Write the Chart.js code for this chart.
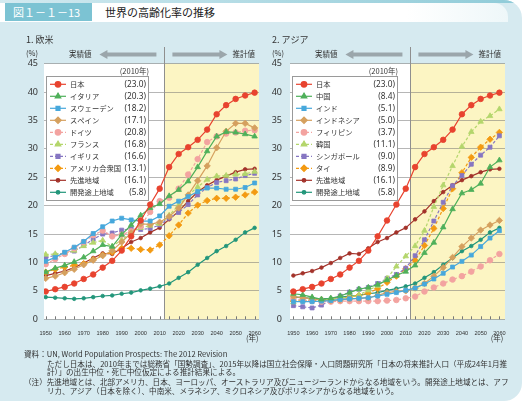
<!DOCTYPE html>
<html>
<head>
<meta charset="utf-8">
<script src="https://cdn.jsdelivr.net/npm/chart.js@4.4.1/dist/chart.umd.min.js"></script>
<style>
body{margin:0;width:527px;height:403px;overflow:hidden;background:#fff;font-family:"Noto Sans CJK JP",sans-serif;}
#frame{position:absolute;left:0;top:0;width:522px;height:401px;background:#d6eaf0;border-radius:0 18px 18px 0;overflow:hidden;}
#topline{position:absolute;left:0;top:0;width:522px;height:3px;background:linear-gradient(90deg,#d3eaf0,#8fcbd8);}
#strip{position:absolute;left:0;top:3px;width:508px;height:19px;background:linear-gradient(90deg,#fff 80%,#eef7f9);border-top-right-radius:14px;}
#figno{position:absolute;left:5px;top:3px;width:87px;height:18px;background:#7cc3d3;color:#fff;font-size:11px;line-height:18px;padding-left:8px;box-sizing:border-box;}
#title{position:absolute;left:105px;top:3px;font-size:11px;line-height:18px;color:#222;}
canvas{position:absolute;top:30px;}
.note{position:absolute;font-size:7.6px;line-height:9px;color:#333;white-space:nowrap;}
</style>
</head>
<body>
<div id="frame"><div id="topline"></div><div id="strip"></div></div>
<div id="figno">図１－１－13</div>
<div id="title">世界の高齢化率の推移</div>
<canvas id="west" width="264" height="320" style="left:0px"></canvas>
<canvas id="asia" width="263" height="320" style="left:264px"></canvas>
<div class="note" style="left:24px;top:349px">資料：UN, World Population Prospects: The 2012 Revision</div>
<div class="note" style="left:47px;top:359px">ただし日本は、2010年までは総務省「国勢調査」、2015年以降は国立社会保障・人口問題研究所「日本の将来推計人口（平成24年1月推</div>
<div class="note" style="left:47px;top:367px">計）」の出生中位・死亡中位仮定による推計結果による。</div>
<div class="note" style="left:24px;top:377px">（注）先進地域とは、北部アメリカ、日本、ヨーロッパ、オーストラリア及びニュージーランドからなる地域をいう。開発途上地域とは、アフ</div>
<div class="note" style="left:47px;top:386px">リカ、アジア（日本を除く）、中南米、メラネシア、ミクロネシア及びポリネシアからなる地域をいう。</div>
<script>
// 5-year points, 1950 - 2060 (2015 onward are projections)
var years = [1950,1955,1960,1965,1970,1975,1980,1985,1990,1995,2000,2005,2010,2015,2020,2025,2030,2035,2040,2045,2050,2055,2060];
var tickYears = [1950,1960,1970,1980,1990,2000,2010,2020,2030,2040,2050,2060];
var yTicks = [0,5,10,15,20,25,30,35,40,45];

var japan      = [4.9,5.3,5.7,6.3,7.1,7.9,9.1,10.3,12.1,14.6,17.4,20.2,23.0,26.8,29.1,30.3,31.6,33.4,36.1,37.7,38.8,39.4,39.9];
var developed  = [7.7,8.1,8.5,9.1,9.9,10.8,11.6,11.5,12.5,13.6,14.3,15.3,16.1,17.6,19.0,20.8,22.4,23.6,24.5,25.2,25.9,26.4,26.5];
var developing = [3.9,3.8,3.7,3.6,3.7,3.9,4.1,4.2,4.5,4.7,5.1,5.4,5.8,6.3,7.3,8.3,9.6,10.8,12.0,12.9,14.0,15.3,16.1];

// 1. western countries
var italy   = [8.3,9.0,9.5,10.1,10.9,12.0,13.1,12.8,14.9,16.6,18.3,19.6,20.3,21.7,22.8,24.3,26.8,29.6,32.2,33.0,32.9,32.6,32.2];
var sweden  = [10.2,10.9,11.8,12.7,13.7,15.1,16.3,17.3,17.8,17.5,17.3,17.3,18.2,19.9,20.8,21.6,22.5,23.1,23.1,22.9,22.9,23.2,24.0];
var spain   = [7.2,7.6,8.2,8.8,9.6,10.4,11.2,12.1,13.6,15.2,16.8,16.7,17.1,18.1,19.6,21.9,24.4,27.0,30.2,33.1,34.5,34.5,33.7];
var germany = [9.7,10.6,11.5,12.5,13.6,14.8,15.6,14.6,14.9,15.5,16.4,18.9,20.8,21.4,23.0,25.5,28.2,31.2,32.2,32.7,32.9,33.2,33.3];
var france  = [11.4,11.5,11.6,12.1,12.9,13.5,13.9,12.8,14.0,15.2,16.1,16.5,16.8,18.3,20.1,21.8,23.3,24.6,25.2,25.3,25.5,25.6,26.0];
var uk      = [10.8,11.3,11.7,12.0,13.0,14.1,15.0,15.2,15.7,15.9,15.8,16.0,16.6,17.8,18.8,20.2,21.9,23.2,24.1,24.4,24.7,25.3,25.7];
var usa     = [8.3,8.8,9.2,9.5,9.8,10.5,11.3,11.8,12.5,12.5,12.3,12.2,13.1,14.7,16.6,18.7,20.1,20.9,21.3,21.3,21.5,21.9,22.4];

// 2. asia
var china       = [4.5,4.3,3.9,3.5,3.7,4.1,4.7,5.3,5.6,6.1,6.9,7.7,8.4,9.5,11.7,13.5,16.2,19.4,22.2,22.8,23.9,26.8,28.0];
var india       = [3.1,3.1,3.1,3.2,3.3,3.5,3.6,3.7,3.8,4.1,4.4,4.7,5.1,5.5,6.2,7.1,8.1,9.2,10.2,11.3,12.8,14.3,15.6];
var indonesia   = [4.0,3.8,3.6,3.4,3.3,3.4,3.6,3.7,3.8,4.2,4.7,4.9,5.0,5.5,6.3,7.6,9.1,10.9,12.8,14.3,15.7,16.6,17.4];
var philippines = [3.6,3.4,3.2,3.1,3.1,3.2,3.2,3.2,3.2,3.2,3.3,3.4,3.7,4.0,4.9,5.6,6.3,7.0,7.6,8.4,9.3,10.4,11.5];
var korea       = [3.0,3.3,3.7,3.4,3.5,3.8,3.9,4.3,5.1,5.9,7.2,9.3,11.1,12.9,15.6,19.8,23.6,27.0,30.4,33.0,34.8,35.8,37.0];
var singapore   = [2.4,2.2,2.0,2.5,3.3,4.1,4.8,5.3,5.6,6.3,7.2,7.9,9.0,11.2,14.0,17.3,20.6,23.5,25.3,27.3,28.9,30.3,32.3];
var thailand    = [3.2,3.3,3.3,3.4,3.5,3.7,3.9,4.2,4.6,5.4,6.5,7.6,8.9,10.4,13.0,16.0,19.5,23.0,25.8,28.5,30.3,31.7,32.9];

var westNames  = ['日本','イタリア','スウェーデン','スペイン','ドイツ','フランス','イギリス','アメリカ合衆国','先進地域','開発途上地域'];
var westSeries = [japan, italy, sweden, spain, germany, france, uk, usa, developed, developing];
var west2010   = [23.0,20.3,18.2,17.1,20.8,16.8,16.6,13.1,16.1,5.8];

var asiaNames  = ['日本','中国','インド','インドネシア','フィリピン','韓国','シンガポール','タイ','先進地域','開発途上地域'];
var asiaSeries = [japan, china, india, indonesia, philippines, korea, singapore, thailand, developed, developing];
var asia2010   = [23.0,8.4,5.1,5.0,3.7,11.1,9.0,8.9,16.1,5.8];

// line styles, same slot order in both panels
var styles = [
  {c:'#e8432f', p:'circle', r:2.8},
  {c:'#4fb05a', p:'triangle', r:3.2},
  {c:'#47a8dc', p:'rect', r:2.8},
  {c:'#d5a05e', p:'rectRot', r:3.2},
  {c:'#f3a3a0', p:'circle', r:2.8, d:[3,2]},
  {c:'#b4d66c', p:'triangle', r:3.2, d:[3,2]},
  {c:'#8676c2', p:'rect', r:2.8, d:[3,2]},
  {c:'#f39a12', p:'rectRot', r:3.2, d:[3,2]},
  {c:'#a3322a', p:'circle', r:1.8},
  {c:'#22967a', p:'circle', r:1.8}
];

var canvasTop = 30;
var boundary = 2012.5;

function makeDatasets(names, series) {
  return names.map(function (n, i) {
    var s = styles[i];
    return {
      label: n,
      data: years.map(function (yr, j) { return {x: yr, y: series[i][j]}; }),
      borderColor: s.c,
      backgroundColor: s.c,
      borderWidth: 1.2,
      borderDash: s.d || [],
      pointStyle: s.p,
      pointRadius: s.r,
      pointBorderWidth: 0.8,
      tension: 0
    };
  });
}

function arrow(ctx, tail, head, y) {
  var dir = head > tail ? 1 : -1;
  ctx.beginPath();
  ctx.moveTo(tail, y - 2);
  ctx.lineTo(head - dir * 8, y - 2);
  ctx.lineTo(head - dir * 8, y - 4.5);
  ctx.lineTo(head, y);
  ctx.lineTo(head - dir * 8, y + 4.5);
  ctx.lineTo(head - dir * 8, y + 2);
  ctx.lineTo(tail, y + 2);
  ctx.closePath();
  ctx.fill();
}

// white / yellow backgrounds, header arrows, box legend
var panelDecor = {
  id: 'panelDecor',
  beforeDraw: function (chart) {
    var ctx = chart.ctx, a = chart.chartArea;
    var sx = chart.scales.x.getPixelForValue(boundary);
    ctx.save();
    ctx.fillStyle = '#ffffff';
    ctx.fillRect(a.left, a.top, sx - a.left, a.bottom - a.top);
    ctx.fillStyle = '#fcf5c3';
    ctx.fillRect(sx, a.top, a.right - sx, a.bottom - a.top);
    ctx.restore();
  },
  beforeDatasetsDraw: function (chart) {
    var ctx = chart.ctx, a = chart.chartArea, x = chart.scales.x;
    var sx = x.getPixelForValue(boundary);
    ctx.save();
    ctx.strokeStyle = '#8f8f8f';
    ctx.lineWidth = 1;
    ctx.beginPath();
    ctx.moveTo(Math.round(sx) + 0.5, 17);
    ctx.lineTo(Math.round(sx) + 0.5, a.bottom);
    ctx.stroke();
    ctx.strokeStyle = '#777';
    for (var yr = 1950; yr <= 2060; yr += 5) {
      var px = Math.round(x.getPixelForValue(yr)) + 0.5;
      ctx.beginPath();
      ctx.moveTo(px, a.bottom);
      ctx.lineTo(px, a.bottom - 3);
      ctx.stroke();
    }
    ctx.restore();
  },
  afterDraw: function (chart, args, o) {
    var ctx = chart.ctx, a = chart.chartArea, x = chart.scales.x;
    var sx = x.getPixelForValue(boundary);
    ctx.save();
    ctx.fillStyle = '#333';
    ctx.textBaseline = 'middle';
    ctx.font = '9px "Noto Sans CJK JP"';
    ctx.fillText(o.title, a.left - 18, 10);
    ctx.font = '7.5px "Noto Sans CJK JP"';
    ctx.fillText('(%)', a.left - 18, 23);
    ctx.textAlign = 'right';
    ctx.fillText('実績値', sx - 73, 24);
    ctx.textAlign = 'left';
    ctx.fillText('推計値', sx + 68, 24);
    ctx.textAlign = 'right';
    ctx.fillText('(年)', x.getPixelForValue(2060) + 4, 308.5);
    ctx.fillStyle = '#9ba6ab';
    arrow(ctx, sx - 8, sx - 65, 24.5);
    arrow(ctx, sx + 8, sx + 63, 24.5);

    // legend box
    var L = o.box;
    ctx.fillStyle = '#fff';
    ctx.fillRect(L.left, L.top, L.right - L.left, L.bottom - L.top);
    ctx.strokeStyle = '#9a9a9a';
    ctx.lineWidth = 1;
    ctx.strokeRect(L.left + 0.5, L.top + 0.5, L.right - L.left - 1, L.bottom - L.top - 1);
    ctx.fillStyle = '#333';
    ctx.font = '7.5px "Noto Sans CJK JP"';
    ctx.textAlign = 'right';
    ctx.fillText('(2010年)', L.right, L.top - 5);
    chart.data.datasets.forEach(function (ds, i) {
      var cy = L.first + i * L.step;
      ctx.strokeStyle = ds.borderColor;
      ctx.fillStyle = ds.backgroundColor;
      ctx.lineWidth = 1.2;
      ctx.setLineDash(ds.borderDash);
      ctx.beginPath();
      ctx.moveTo(L.left + 4, cy);
      ctx.lineTo(L.left + 20, cy);
      ctx.stroke();
      ctx.setLineDash([]);
      Chart.helpers.drawPoint(ctx, {pointStyle: ds.pointStyle, radius: ds.pointRadius, borderWidth: 0.8, rotation: 0}, L.left + 12, cy);
      ctx.fillStyle = '#333';
      ctx.textAlign = 'left';
      ctx.font = '7.3px "Noto Sans CJK JP"';
      ctx.fillText(ds.label, L.left + 24, cy);
      ctx.textAlign = 'right';
      ctx.font = '8.3px "Noto Sans"';
      ctx.fillText('(' + o.values[i].toFixed(1) + ')', L.right - 3, cy);
    });
    ctx.restore();
  }
};

function makeChart(id, names, series, values, cfg) {
  var ctx = document.getElementById(id).getContext('2d');
  return new Chart(ctx, {
    type: 'line',
    data: {datasets: makeDatasets(names, series)},
    plugins: [panelDecor],
    options: {
      responsive: false,
      animation: false,
      devicePixelRatio: 1,
      layout: {padding: {left: 0, right: cfg.padRight, top: 33.7, bottom: 10.7}},
      plugins: {
        legend: {display: false},
        tooltip: {enabled: false},
        panelDecor: {title: cfg.title, values: values, box: cfg.box}
      },
      scales: {
        x: {
          type: 'linear',
          min: cfg.xMin,
          max: cfg.xMax,
          afterBuildTicks: function (s) { s.ticks = tickYears.map(function (v) { return {value: v}; }); },
          afterFit: function (s) { s.height = 20; },
          grid: {display: false},
          border: {display: false},
          ticks: {
            padding: 3, maxRotation: 0, autoSkip: false, color: '#333',
            font: {size: 5.6, family: 'Liberation Sans'},
            callback: function (v) { return String(v); }
          }
        },
        y: {
          min: 0,
          max: 45,
          afterBuildTicks: function (s) { s.ticks = yTicks.map(function (v) { return {value: v}; }); },
          afterFit: function (s) { s.width = cfg.yWidth; },
          grid: {drawTicks: false, color: 'rgba(110,110,110,0.5)', lineWidth: 1},
          border: {display: false},
          ticks: {padding: cfg.yPad, color: '#333', font: {size: 9, family: 'Noto Sans'}}
        }
      }
    }
  });
}

makeChart('west', westNames, westSeries, west2010, {
  title: '1. 欧米', xMin: 1949.1, xMax: 2062.3, yWidth: 44, yPad: 6, padRight: 5,
  box: {left: 46, right: 149, top: 76 - canvasTop, bottom: 201 - canvasTop, first: 84.3 - canvasTop, step: 12}
});
makeChart('asia', asiaNames, asiaSeries, asia2010, {
  title: '2. アジア', xMin: 1948.2, xMax: 2063, yWidth: 26, yPad: 8, padRight: 22,
  box: {left: 292 - 264, right: 398 - 264, top: 76 - canvasTop, bottom: 201 - canvasTop, first: 84.3 - canvasTop, step: 12}
});
</script>
</body>
</html>
